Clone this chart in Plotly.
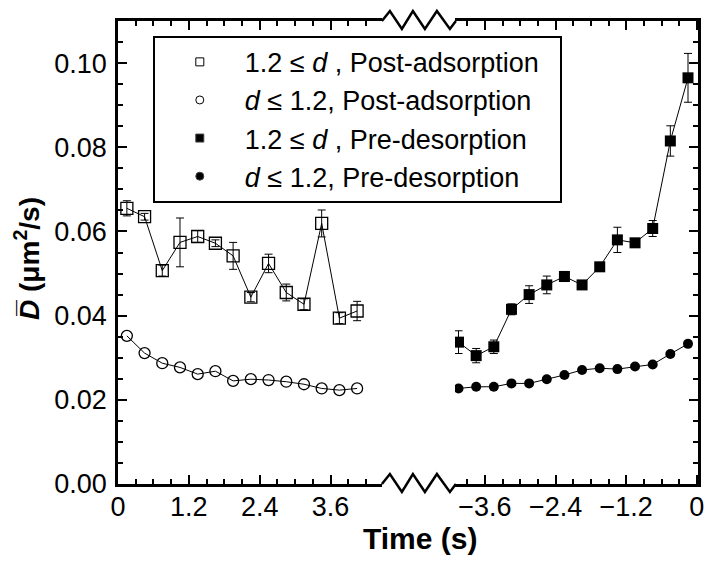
import plotly.graph_objects as go

# ---------------- data ----------------
t_post = [0.15, 0.45, 0.75, 1.05, 1.35, 1.65, 1.95, 2.25, 2.55, 2.85, 3.15, 3.45, 3.75, 4.05]
t_pre = [-4.05, -3.75, -3.45, -3.15, -2.85, -2.55, -2.25, -1.95, -1.65, -1.35, -1.05, -0.75, -0.45, -0.15]

big_post = [0.0655, 0.0635, 0.0507, 0.0574, 0.0588, 0.0572, 0.0542, 0.0444, 0.0524, 0.0455, 0.0427, 0.0619, 0.0394, 0.0411]
big_post_err = [0.0018, 0.0008, 0.0013, 0.0058, 0.0014, 0.0008, 0.0032, 0.0011, 0.0022, 0.0020, 0.0013, 0.0032, 0.0013, 0.0023]

small_post = [0.0352, 0.0311, 0.0287, 0.0277, 0.0261, 0.0268, 0.0245, 0.0249, 0.0247, 0.0243, 0.0237, 0.0227, 0.0223, 0.0227]

big_pre = [0.0337, 0.0305, 0.0326, 0.0415, 0.0450, 0.0473, 0.0493, 0.0473, 0.0516, 0.0580, 0.0573, 0.0607, 0.0815, 0.0965]
big_pre_err = [0.0027, 0.0017, 0.0016, 0.0013, 0.0021, 0.0021, 0.0012, 0.0008, 0.0008, 0.0030, 0.0008, 0.0019, 0.0036, 0.0058]

small_pre = [0.0227, 0.0231, 0.0231, 0.0239, 0.0239, 0.0249, 0.0259, 0.0271, 0.0275, 0.0273, 0.0279, 0.0284, 0.0309, 0.0333]

legend_names = [
    "1.2 ≤ <i>d</i> , Post-adsorption",
    "<i>d</i> ≤ 1.2, Post-adsorption",
    "1.2 ≤ <i>d</i> , Pre-desorption",
    "<i>d</i> ≤ 1.2, Pre-desorption",
]
x_ticks_post = [0, 1.2, 2.4, 3.6]
x_ticklabels_post = ["0", "1.2", "2.4", "3.6"]
x_ticks_pre = [-3.6, -2.4, -1.2, 0]
x_ticklabels_pre = ["\u22123.6", "\u22122.4", "\u22121.2", "0"]
y_ticks = [0.00, 0.02, 0.04, 0.06, 0.08, 0.10]

FONT = "Liberation Sans, Arial, sans-serif"
fig = go.Figure()

def err(vals):
    return dict(type="data", array=vals, color="black", thickness=1, width=4)

line = dict(color="black", width=1)

fig.add_trace(go.Scatter(x=t_post, y=big_post, error_y=err(big_post_err), mode="lines+markers",
                         line=line, marker=dict(symbol="square-open", size=12, color="black", line=dict(width=1.3)),
                         showlegend=False, xaxis="x", yaxis="y"))
fig.add_trace(go.Scatter(x=t_post, y=small_post, mode="lines+markers",
                         line=line, marker=dict(symbol="circle-open", size=11, color="black", line=dict(width=1.3)),
                         showlegend=False, xaxis="x", yaxis="y"))
fig.add_trace(go.Scatter(x=t_pre, y=big_pre, error_y=err(big_pre_err), mode="lines+markers",
                         line=line, marker=dict(symbol="square", size=11, color="black"),
                         showlegend=False, xaxis="x2", yaxis="y2"))
fig.add_trace(go.Scatter(x=t_pre, y=small_pre, mode="lines+markers",
                         line=line, marker=dict(symbol="circle", size=10, color="black"),
                         showlegend=False, xaxis="x2", yaxis="y2"))

# legend-only entries (markers only)
leg_symbols = ["square-open", "circle-open", "square", "circle"]
for i, (nm, sym) in enumerate(zip(legend_names, leg_symbols)):
    fig.add_trace(go.Scatter(x=[None], y=[None], mode="markers", name=nm + "\u00a0\u00a0",
                             marker=dict(symbol=sym, size=8, color="black", line=dict(width=1)),
                             legendgroup=f"g{i}", xaxis="x", yaxis="y"))

axis_common = dict(showline=True, linewidth=2.5, linecolor="black", ticks="inside", ticklen=9,
                   tickwidth=2, tickcolor="black", showgrid=False, zeroline=False, automargin=False,
                   tickfont=dict(family=FONT, size=27, color="black"))
minor_x = dict(dtick=0.3, tick0=0, ticks="inside", ticklen=5, tickwidth=1.5, tickcolor="black")
minor_y = dict(dtick=0.005, tick0=0, ticks="inside", ticklen=5, tickwidth=1.5, tickcolor="black")

fig.update_layout(
    width=714, height=563,
    margin=dict(l=118, r=16, t=21, b=79, autoexpand=False),
    paper_bgcolor="white", plot_bgcolor="white",
    font=dict(family=FONT, color="black"),
    xaxis=dict(domain=[0, 0.455], range=[0, 4.47], tickvals=x_ticks_post, ticktext=x_ticklabels_post,
               mirror="ticks", anchor="y", minor=minor_x, ticklabelstandoff=-3, **axis_common),
    xaxis2=dict(domain=[0.581, 1], range=[-4.11, 0.02], tickvals=x_ticks_pre, ticktext=x_ticklabels_pre,
                mirror="ticks", anchor="y2", minor=minor_x, ticklabelstandoff=-3, **axis_common),
    yaxis=dict(domain=[0, 1], range=[0, 0.11], tickvals=y_ticks, tickformat=".2f", anchor="x", side="left",
               minor=minor_y, ticklabelstandoff=3, **axis_common),
    yaxis2=dict(domain=[0, 1], range=[0, 0.11], tickvals=y_ticks, anchor="x2", side="right",
                showticklabels=False, minor=minor_y, **axis_common),
    legend=dict(x=0.06, y=0.968, xanchor="left", yanchor="top", bordercolor="black", borderwidth=2,
                bgcolor="white", font=dict(family=FONT, size=27, color="black"),
                traceorder="grouped", tracegroupgap=0, itemwidth=80),
    showlegend=True,
)

fig.add_annotation(text="<b>Time (s)</b>", xref="paper", yref="paper", x=0.521, y=-0.117,
                   xanchor="center", yanchor="middle", showarrow=False,
                   font=dict(family=FONT, size=30, color="black"))
fig.add_annotation(text="<b><i>D\u0305</i> (\u03bcm<sup>2</sup>/s)</b>", xref="paper", yref="paper",
                   x=-0.157, y=0.488, xanchor="center", yanchor="middle", textangle=-90, showarrow=False,
                   font=dict(family=FONT, size=28, color="black"))

# axis-break zigzags (pixel path relative to the end of the left panel)
zig = "M0,0 L8,10 L20,-8 L31,10 L43,-8 L55,10 L68,-8 L74,0"
for ya in (0, 1):
    fig.add_shape(type="path", path=zig, xref="paper", yref="paper",
                  xsizemode="pixel", ysizemode="pixel", xanchor=0.455, yanchor=ya,
                  line=dict(color="black", width=2.5))

fig.write_html("out.html", config={"displayModeBar": False},
               post_script="document.body.style.margin='0';")
